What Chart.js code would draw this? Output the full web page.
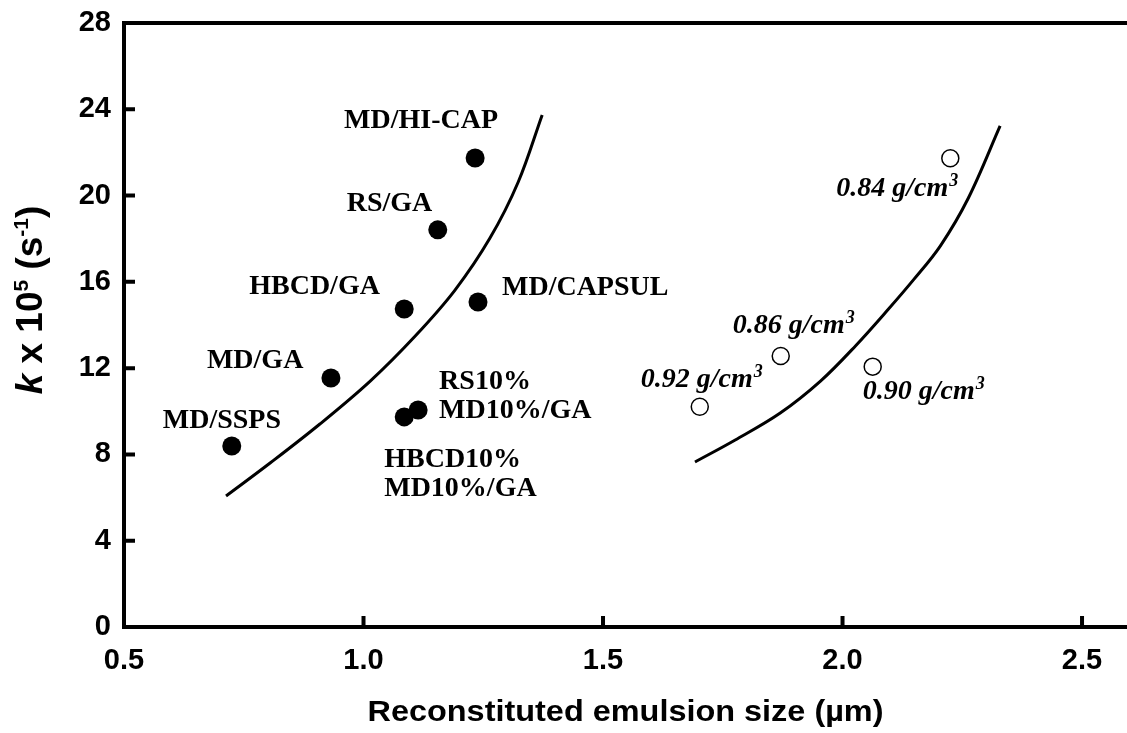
<!DOCTYPE html>
<html>
<head>
<meta charset="utf-8">
<script src="https://cdn.jsdelivr.net/npm/chart.js@4.4.1/dist/chart.umd.min.js"></script>
<style>
  html, body { margin: 0; padding: 0; background: #fff; }
  #chart { display: block; }
</style>
</head>
<body>
<canvas id="chart" width="1127" height="733"></canvas>
<script>
// Wall material systems (filled dots)
const wallLabels = ['MD/HI-CAP', 'RS/GA', 'HBCD/GA', 'MD/CAPSUL', 'MD/GA', 'MD/SSPS',
                    ['HBCD10%', 'MD10%/GA'], ['RS10%', 'MD10%/GA']];
const wallSize   = [1.233, 1.155, 1.085, 1.239, 0.932, 0.725, 1.085, 1.114];
const wallK      = [21.74, 18.41, 14.74, 15.07, 11.54, 8.39, 9.74, 10.06];

// Particle density series (open circles), g/cm3
const densityLabels = ['0.84', '0.86', '0.90', '0.92'];
const densitySize   = [2.225, 1.871, 2.063, 1.702];
const densityK      = [21.73, 12.56, 12.07, 10.21];

// Trend curves
const wallFitX = [0.713, 0.805, 0.909, 1.014, 1.108, 1.191, 1.264, 1.323, 1.373];
const wallFitY = [6.07, 7.60, 9.41, 11.40, 13.49, 15.62, 18.03, 20.63, 23.74];
const densFitX = [1.692, 1.776, 1.870, 1.954, 2.027, 2.096, 2.148, 2.204, 2.263, 2.329];
const densFitY = [7.65, 8.67, 9.92, 11.40, 13.03, 14.74, 16.09, 17.66, 19.90, 23.23];

const xTicks = [0.5, 1.0, 1.5, 2.0, 2.5];
const yTicks = [0, 4, 8, 12, 16, 20, 24, 28];

const SANS = '"Liberation Sans", Arial, sans-serif';
const SERIF = '"Liberation Serif", "Times New Roman", serif';

const toPoints = (xs, ys) => xs.map((x, i) => ({ x, y: ys[i] }));

// label placement, px from the marker (left edge, baseline)
const wallLabelOffset = [[-131, -30], [-91, -19], [-155, -15], [24, -7], [-124, -10], [-69, -18], [-20, 50], [21, -21]];
const densLabelOffset = [[-114, 38], [-48, -23], [-10, 32], [-59, -20]];

const frame = {
  id: 'frame',
  afterDraw(chart) {
    const { ctx, chartArea: a, scales: { x, y } } = chart;
    ctx.save();
    ctx.strokeStyle = '#000';
    ctx.lineWidth = 4;
    ctx.lineCap = 'square';
    ctx.beginPath();
    ctx.moveTo(chart.width + 4, a.top);
    ctx.lineTo(a.left, a.top);
    ctx.lineTo(a.left, a.bottom);
    ctx.lineTo(chart.width + 4, a.bottom);
    ctx.stroke();

    // inward tick marks
    ctx.lineCap = 'butt';
    ctx.beginPath();
    yTicks.slice(1, -1).forEach(v => {
      const py = y.getPixelForValue(v);
      ctx.moveTo(a.left, py);
      ctx.lineTo(a.left + 11, py);
    });
    xTicks.slice(1).forEach(v => {
      const px = x.getPixelForValue(v);
      ctx.moveTo(px, a.bottom);
      ctx.lineTo(px, a.bottom - 11);
    });
    ctx.stroke();

    // point labels
    ctx.fillStyle = '#000';
    ctx.textAlign = 'left';
    ctx.textBaseline = 'alphabetic';
    ctx.font = 'bold 28px ' + SERIF;
    wallLabels.forEach((lab, i) => {
      const px = x.getPixelForValue(wallSize[i]) + wallLabelOffset[i][0];
      const py = y.getPixelForValue(wallK[i]) + wallLabelOffset[i][1];
      const lines = Array.isArray(lab) ? lab : [lab];
      lines.forEach((t, j) => ctx.fillText(t, px, py + j * 29));
    });
    densityLabels.forEach((lab, i) => {
      const px = x.getPixelForValue(densitySize[i]) + densLabelOffset[i][0];
      const py = y.getPixelForValue(densityK[i]) + densLabelOffset[i][1];
      ctx.font = 'italic bold 28px ' + SERIF;
      const t = lab + ' g/cm';
      ctx.fillText(t, px, py);
      const w = ctx.measureText(t).width;
      ctx.font = 'italic bold 18px ' + SERIF;
      ctx.fillText('3', px + w + 1, py - 10);
    });

    // x axis title
    ctx.font = 'bold 29px ' + SANS;
    ctx.textAlign = 'center';
    const title = 'Reconstituted emulsion size (\u00b5m)';
    const tw = ctx.measureText(title).width;
    ctx.save();
    ctx.translate((a.left + chart.width) / 2, 721);
    ctx.scale(516 / tw, 1);
    ctx.fillText(title, 0, 0);
    ctx.restore();

    // y axis title: k x 10^5 (s^-1)
    const parts = [
      { t: 'k', f: 'italic bold 37px ' + SANS, dy: 0 },
      { t: ' x 10', f: 'bold 37px ' + SANS, dy: 0 },
      { t: '5', f: 'bold 21px ' + SANS, dy: -14 },
      { t: ' (s', f: 'bold 37px ' + SANS, dy: 0 },
      { t: '-1', f: 'bold 21px ' + SANS, dy: -14 },
      { t: ')', f: 'bold 37px ' + SANS, dy: 0 }
    ];
    ctx.textAlign = 'left';
    let total = 0;
    parts.forEach(p => { ctx.font = p.f; p.w = ctx.measureText(p.t).width; total += p.w; });
    ctx.save();
    ctx.translate(42, 300);
    ctx.rotate(-Math.PI / 2);
    let cx = -total / 2;
    parts.forEach(p => { ctx.font = p.f; ctx.fillText(p.t, cx, p.dy); cx += p.w; });
    ctx.restore();
    ctx.restore();
  }
};

new Chart(document.getElementById('chart'), {
  type: 'scatter',
  data: {
    datasets: [
      {
        label: 'wall',
        data: toPoints(wallSize, wallK),
        pointRadius: 9.5,
        pointBackgroundColor: '#000',
        pointBorderWidth: 0,
        showLine: false
      },
      {
        label: 'density',
        data: toPoints(densitySize, densityK),
        pointRadius: 8.5,
        pointBackgroundColor: '#fff',
        pointBorderColor: '#000',
        pointBorderWidth: 1.5,
        showLine: false
      },
      {
        label: 'wall fit',
        data: toPoints(wallFitX, wallFitY),
        showLine: true,
        borderColor: '#000',
        borderWidth: 3,
        pointRadius: 0,
        tension: 0.35
      },
      {
        label: 'density fit',
        data: toPoints(densFitX, densFitY),
        showLine: true,
        borderColor: '#000',
        borderWidth: 3,
        pointRadius: 0,
        tension: 0.35
      }
    ]
  },
  options: {
    responsive: false,
    devicePixelRatio: 1,
    animation: false,
    layout: { padding: { top: 23, right: 0, bottom: 0, left: 0 } },
    plugins: { legend: { display: false }, tooltip: { enabled: false } },
    scales: {
      x: {
        type: 'linear',
        min: 0.5,
        max: 2.573,
        grid: { display: false, drawTicks: false },
        border: { display: false },
        afterBuildTicks: s => { s.ticks = xTicks.map(v => ({ value: v })); },
        afterFit: s => { s.height = 106; s.paddingLeft = 0; s.paddingRight = 0; },
        ticks: {
          color: '#000',
          padding: 17,
          maxRotation: 0,
          font: { family: SANS, size: 29, weight: 'bold' },
          callback: v => v.toFixed(1)
        }
      },
      y: {
        type: 'linear',
        min: 0,
        max: 28,
        grid: { display: false, drawTicks: false },
        border: { display: false },
        afterBuildTicks: s => { s.ticks = yTicks.map(v => ({ value: v })); },
        afterFit: s => { s.width = 124; s.paddingTop = 0; s.paddingBottom = 0; },
        ticks: {
          color: '#000',
          padding: 13,
          font: { family: SANS, size: 29, weight: 'bold' },
          callback: v => String(v)
        }
      }
    }
  },
  plugins: [frame]
});
</script>
</body>
</html>
